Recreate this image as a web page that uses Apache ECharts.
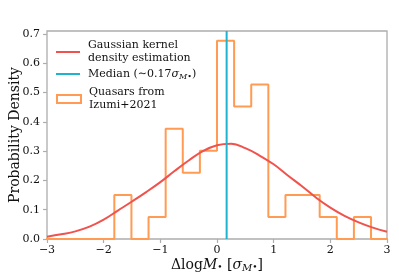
<!DOCTYPE html>
<html>
<head>
<meta charset="utf-8">
<script src="https://cdn.jsdelivr.net/npm/echarts@6/dist/echarts.min.js"></script>
<style>
html,body{margin:0;padding:0;background:#fff;}
#c{width:399px;height:276px;}
</style>
</head>
<body>
<div id="c"></div>
<script>
// ---- data ----
var binEdges = [-3.02,-2.718,-2.416,-2.114,-1.812,-1.51,-1.208,-0.906,-0.604,-0.302,0,0.302,0.604,0.906,1.208,1.51,1.812,2.114,2.416,2.718,3.02];
var histDensity = [0,0,0,0,0.150,0,0.075,0.376,0.226,0.301,0.677,0.452,0.527,0.075,0.150,0.150,0.075,0,0.075,0];
var kdeX = [-3.00,-2.75,-2.50,-2.25,-2.00,-1.75,-1.50,-1.25,-1.00,-0.75,-0.50,-0.25,0.00,0.25,0.50,0.75,1.00,1.25,1.50,1.75,2.00,2.25,2.50,2.75,3.00];
var kdeY = [0.008,0.016,0.026,0.042,0.066,0.097,0.128,0.160,0.194,0.232,0.268,0.300,0.320,0.325,0.310,0.285,0.255,0.217,0.180,0.141,0.107,0.079,0.057,0.039,0.025];
var medianX = 0.17;
var xTicks = [-3,-2,-1,0,1,2,3];
var yTicks = [0,0.1,0.2,0.3,0.4,0.5,0.6,0.7];

// ---- styles ----
var RED = '#F0524D', CYAN = '#1FB3D0', ORANGE = '#FF9B52', GRAY = '#ADADAD', TXT = '#111';
var SERIF = 'DejaVu Serif';

var histLine = [[binEdges[0], 0]];
for (var i = 0; i < histDensity.length; i++) {
  histLine.push([binEdges[i], histDensity[i]]);
  histLine.push([binEdges[i + 1], histDensity[i]]);
}
histLine.push([binEdges[binEdges.length - 1], 0]);
var kdeLine = kdeX.map(function (x, i) { return [x, kdeY[i]]; });

var rich = {
  n: {fontFamily: SERIF, fontSize: 14, color: TXT},
  i: {fontFamily: SERIF, fontStyle: 'italic', fontSize: 14, color: TXT},
  b: {fontFamily: SERIF, fontSize: 9, color: TXT, padding: [6, 0, 0, 0]},
  s: {fontFamily: SERIF, fontStyle: 'italic', fontSize: 10, color: TXT, padding: [6, 0, 0, 0]}
};
var legRich = {
  t: {fontFamily: SERIF, fontSize: 11, color: TXT, lineHeight: 13},
  i: {fontFamily: SERIF, fontStyle: 'italic', fontSize: 11, color: TXT, lineHeight: 13},
  s: {fontFamily: SERIF, fontStyle: 'italic', fontSize: 8, color: TXT, padding: [5, 0, 0, 0]}
};
function legendBase(name, top, fmt, icon, itemStyle) {
  return {
    data: [name], left: 56, top: top, padding: 0, orient: 'vertical',
    itemWidth: 24, itemHeight: 8, selectedMode: false,
    icon: icon, itemStyle: itemStyle,
    formatter: function () { return fmt; },
    textStyle: {fontFamily: SERIF, fontSize: 11, color: TXT, lineHeight: 13, padding: [0, 0, 0, 3], rich: legRich}
  };
}
var LINE_ICON = 'path://M0,0H24V2H0Z';

var chart = echarts.init(document.getElementById('c'), null, {renderer: 'canvas'});
chart.setOption({
  animation: false,
  backgroundColor: '#fff',
  grid: {left: 47, right: 12, top: 31, bottom: 37, outerBoundsMode: 'none', containLabel: false,
    show: true, borderColor: GRAY, borderWidth: 1.3, backgroundColor: 'transparent'},
  xAxis: {
    type: 'value', min: -3, max: 3, interval: 1,
    axisLine: {show: false, onZero: false},
    axisTick: {show: true, length: 4, lineStyle: {color: GRAY, width: 1.2}, customValues: xTicks},
    axisLabel: {margin: 6, fontFamily: SERIF, fontSize: 11, color: TXT, customValues: xTicks,
      formatter: function (v) { return String(v).replace('-', '\u2212'); }},
    splitLine: {show: false},
    name: '{n|\u0394log}{i|M}{b|\u2022} {n|[}{i|\u03c3}{s|M}{b|\u2022}{n|]}',
    nameLocation: 'middle', nameGap: 18, nameMoveOverlap: false,
    nameTextStyle: {fontFamily: SERIF, fontSize: 14, color: TXT, rich: rich}
  },
  yAxis: {
    type: 'value', min: 0, max: 0.71, interval: 0.1,
    axisLine: {show: false, onZero: false},
    axisTick: {show: true, length: 4, lineStyle: {color: GRAY, width: 1.2}, customValues: yTicks},
    axisLabel: {margin: 7, fontFamily: SERIF, fontSize: 11, color: TXT, customValues: yTicks,
      formatter: function (v) { return v.toFixed(1); }},
    splitLine: {show: false},
    name: 'Probability Density', nameLocation: 'middle', nameGap: 25, nameMoveOverlap: false,
    nameTextStyle: {fontFamily: SERIF, fontSize: 14, color: TXT}
  },
  legend: [
    legendBase('kde', 39, '{t|Gaussian kernel}\n{t|density estimation}', LINE_ICON, {color: RED, borderWidth: 0}),
    legendBase('median', 67.5, '{t|Median (\u223c0.17}{i|\u03c3}{s|M\u2022}{t|)}', LINE_ICON, {color: CYAN, borderWidth: 0}),
    legendBase('hist', 86, '{t|Quasars from}\n{t|Izumi+2021}', 'path://M0,0H24V8H0Z',
      {color: 'rgba(0,0,0,0)', borderColor: ORANGE, borderWidth: 2})
  ],
  series: [
    {name: 'hist', type: 'line', data: histLine, showSymbol: false, symbol: 'none',
      lineStyle: {color: ORANGE, width: 2}, itemStyle: {color: ORANGE}, z: 2},
    {name: 'kde', type: 'line', data: kdeLine, smooth: 0.4, showSymbol: false, symbol: 'none',
      lineStyle: {color: RED, width: 2}, itemStyle: {color: RED}, z: 3},
    {name: 'median', type: 'line', data: [[medianX, 0], [medianX, 0.71]], showSymbol: false, symbol: 'none',
      lineStyle: {color: CYAN, width: 2}, itemStyle: {color: CYAN}, z: 4}
  ]
});
</script>
</body>
</html>
